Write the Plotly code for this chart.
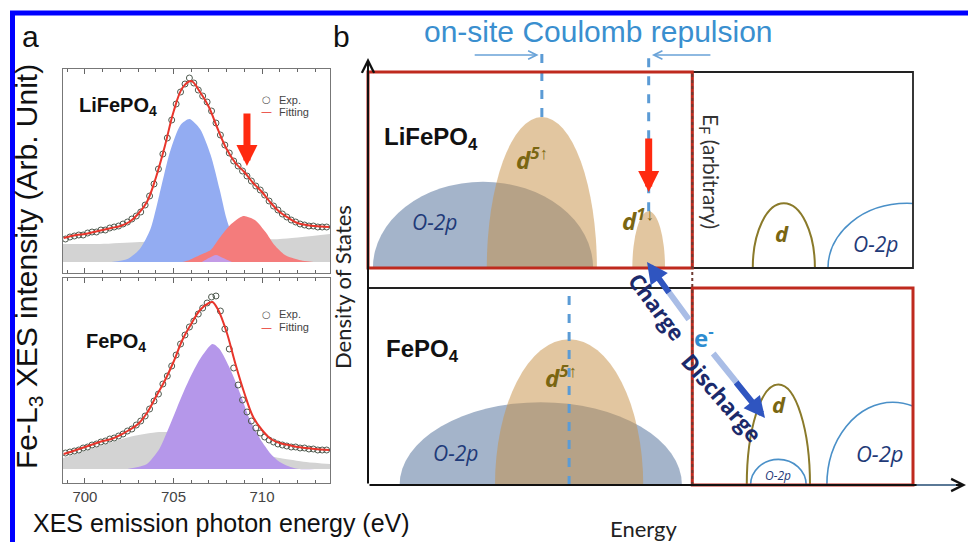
import plotly.graph_objects as go

FIG_W, FIG_H = 968, 542


def PX(x):
    """pixel column -> paper x"""
    return x / FIG_W


def PY(y):
    """pixel row -> paper y"""
    return 1 - y / FIG_H


# ------------------------------------------------------------------
# Panel a : Fe-L3 XES spectra (arbitrary intensity units)
# ------------------------------------------------------------------
energy_ticks = [700, 705, 710]

# LiFePO4 experimental points
lfp_exp_ev = [698.9, 699.15, 699.4, 699.65, 699.9, 700.15, 700.4, 700.65, 700.9, 701.15,
              701.4, 701.65, 701.9, 702.15, 702.4, 702.65, 702.9, 703.15, 703.4, 703.65,
              703.9, 704.15, 704.4, 704.65, 704.9, 705.15, 705.4, 705.65, 705.9, 706.15,
              706.4, 706.65, 706.9, 707.15, 707.4, 707.65, 707.9, 708.15, 708.4, 708.65,
              708.9, 709.15, 709.4, 709.65, 709.9, 710.15, 710.4, 710.65, 710.9, 711.15,
              711.4, 711.65, 711.9, 712.15, 712.4, 712.65, 712.9, 713.15, 713.4, 713.65]
lfp_exp_int = [0.23, 0.25, 0.26, 0.27, 0.27, 0.29, 0.30, 0.30, 0.32, 0.32,
               0.34, 0.35, 0.36, 0.38, 0.40, 0.43, 0.46, 0.50, 0.57, 0.66,
               0.78, 0.93, 1.08, 1.24, 1.42, 1.58, 1.70, 1.78, 1.84, 1.79,
               1.72, 1.66, 1.60, 1.51, 1.39, 1.27, 1.17, 1.09, 1.01, 0.96,
               0.91, 0.86, 0.81, 0.76, 0.72, 0.67, 0.61, 0.56, 0.52, 0.48,
               0.45, 0.42, 0.40, 0.38, 0.37, 0.36, 0.36, 0.35, 0.35, 0.35]

# LiFePO4 total fit
lfp_fit_ev = [698.8, 699.5, 700.0, 700.5, 701.0, 701.5, 702.0, 702.5, 703.0, 703.5,
              704.0, 704.5, 705.0, 705.5, 706.0, 706.5, 707.0, 707.5, 708.0, 708.5,
              709.0, 709.5, 710.0, 710.5, 711.0, 711.5, 712.0, 712.5, 713.0, 713.8]
lfp_fit_int = [0.24, 0.27, 0.28, 0.30, 0.32, 0.34, 0.36, 0.40, 0.48, 0.60,
               0.84, 1.15, 1.50, 1.74, 1.81, 1.70, 1.55, 1.33, 1.13, 0.99,
               0.90, 0.79, 0.70, 0.59, 0.50, 0.44, 0.39, 0.37, 0.36, 0.35]

# LiFePO4 fit components
lfp_bg_ev = [698.76, 700.85, 703.1, 705.9, 708.8, 711.0, 713.84]
lfp_bg_int = [0.18, 0.18, 0.20, 0.21, 0.22, 0.23, 0.28]

lfp_main_ev = [701.5, 702.4, 703.1, 703.7, 704.2, 704.8, 705.4, 705.9, 706.5, 707.1,
               707.6, 708.0, 708.4, 708.9, 709.4, 710.0]
lfp_main_int = [0.0, 0.03, 0.13, 0.33, 0.67, 1.10, 1.37, 1.43, 1.33, 1.07,
                0.73, 0.43, 0.23, 0.07, 0.01, 0.0]

lfp_shoulder_ev = [705.5, 705.9, 706.5, 707.1, 707.6, 708.2, 708.8, 709.0, 709.6, 710.2,
                   710.7, 711.3, 712.1, 713.0, 713.8]
lfp_shoulder_int = [0.0, 0.02, 0.07, 0.12, 0.24, 0.37, 0.45, 0.46, 0.42, 0.30,
                    0.17, 0.07, 0.02, 0.0, 0.0]

lfp_minor_ev = [706.6, 707.0, 707.4, 707.8, 708.3]
lfp_minor_int = [0.0, 0.04, 0.07, 0.04, 0.0]

# FePO4 experimental points
fp_exp_ev = lfp_exp_ev
fp_exp_int = [0.16, 0.17, 0.18, 0.19, 0.21, 0.22, 0.24, 0.25, 0.27, 0.28,
              0.30, 0.31, 0.33, 0.35, 0.38, 0.40, 0.44, 0.48, 0.53, 0.60,
              0.68, 0.75, 0.85, 0.93, 1.03, 1.14, 1.25, 1.34, 1.42, 1.48,
              1.55, 1.61, 1.66, 1.72, 1.73, 1.58, 1.40, 1.20, 1.01, 0.84,
              0.69, 0.57, 0.48, 0.41, 0.36, 0.32, 0.29, 0.27, 0.25, 0.24,
              0.23, 0.22, 0.22, 0.21, 0.21, 0.20, 0.20, 0.19, 0.19, 0.19]

# FePO4 total fit
fp_fit_ev = [698.8, 699.5, 700.0, 700.5, 701.0, 701.5, 702.0, 702.5, 703.0, 703.5,
             704.0, 704.5, 705.0, 705.5, 706.0, 706.5, 707.0, 707.2, 707.5, 708.0,
             708.5, 709.0, 709.5, 710.0, 710.5, 711.0, 711.5, 712.0, 712.5, 713.0, 713.8]
fp_fit_int = [0.15, 0.19, 0.22, 0.25, 0.28, 0.30, 0.34, 0.39, 0.45, 0.56,
              0.72, 0.88, 1.07, 1.29, 1.45, 1.59, 1.66, 1.67, 1.60, 1.37,
              1.05, 0.76, 0.52, 0.39, 0.30, 0.26, 0.24, 0.22, 0.21, 0.20, 0.19]

# FePO4 fit components
fp_bg_ev = [698.76, 700.0, 700.85, 702.5, 704.2, 705.5, 707.0, 708.5, 710.0, 711.0, 712.5, 713.84]
fp_bg_int = [0.11, 0.18, 0.23, 0.32, 0.37, 0.36, 0.31, 0.23, 0.15, 0.11, 0.07, 0.05]

fp_main_ev = [702.4, 703.0, 703.5, 704.2, 704.8, 705.4, 705.9, 706.5, 707.2, 707.6,
              708.2, 708.8, 709.3, 709.9, 710.5, 711.0, 711.6, 712.1, 713.0]
fp_main_int = [0.0, 0.02, 0.05, 0.20, 0.44, 0.70, 0.90, 1.10, 1.25, 1.20,
               1.00, 0.74, 0.50, 0.30, 0.15, 0.07, 0.02, 0.0, 0.0]

# ------------------------------------------------------------------
# Panel b : schematic density of states (energy in arbitrary units 0-10)
# ------------------------------------------------------------------
fermi_level = 5.95

lfp_band_kind = ["O-2p", "d", "d", "d", "O-2p"]
lfp_band_occ = ["filled", "filled", "filled", "empty", "empty"]
lfp_band_center = [2.11, 3.19, 5.15, 7.63, 9.89]
lfp_band_halfwidth = [2.02, 1.01, 0.30, 0.57, 1.45]
lfp_band_height = [0.44, 0.77, 0.29, 0.33, 0.33]

fp_band_kind = ["O-2p", "d", "d", "O-2p", "O-2p"]
fp_band_occ = ["filled", "filled", "empty", "empty", "empty"]
fp_band_center = [3.17, 3.69, 7.53, 7.53, 9.63]
fp_band_halfwidth = [2.59, 1.36, 0.58, 0.51, 1.21]
fp_band_height = [0.42, 0.74, 0.51, 0.13, 0.42]

# ------------------------------------------------------------------
# geometry of the panels (pixels)
A_LEFT, A_RIGHT = 63, 330
A_TOP1, A_BOT1 = 69, 273
A_TOP2, A_BOT2 = 278, 483
A_BASE1, A_BASE2 = 262, 469
A_SCALE = 100.0                    # pixels per intensity unit

B_LEFT, B_RIGHT = 368, 913
B_TOP1, B_BOT1 = 72, 268
B_TOP2, B_BOT2 = 288, 485
B_TOPAXIS = 40


def b_x(e):
    """schematic energy -> pixel column"""
    return B_LEFT + e * (B_RIGHT - B_LEFT) / 10.0


COL_FIT = "#e8352b"
COL_EXP = "#4f5a4f"
COL_O2P_FILL = "rgba(92,122,160,0.56)"
COL_D_FILL = "rgba(200,146,72,0.52)"
COL_O2P_LINE = "#4a90c8"
COL_D_LINE = "#8a7a2a"
COL_D_TEXT = "#7a6612"
COL_O2P_TEXT = "#1f3a78"
COL_BOX = "#bf2a1e"
COL_BLUE_TXT = "#3a8fcf"

fig = go.Figure()


def fill_trace(xv, yv, color, xa, ya):
    return go.Scatter(x=xv, y=yv, xaxis=xa, yaxis=ya, mode="lines", fill="tozeroy",
                      fillcolor=color, line=dict(width=0, shape="spline", smoothing=0.7),
                      showlegend=False, hoverinfo="skip")


def exp_trace(xv, yv, xa, ya):
    return go.Scatter(x=xv, y=yv, xaxis=xa, yaxis=ya, mode="markers", name="Exp.",
                      showlegend=False,
                      marker=dict(symbol="circle-open", size=6, color=COL_EXP,
                                  line=dict(width=1)))


def fit_trace(xv, yv, xa, ya):
    return go.Scatter(x=xv, y=yv, xaxis=xa, yaxis=ya, mode="lines", name="Fitting",
                      showlegend=False, line=dict(color=COL_FIT, width=2, shape="spline"))


# top spectrum (LiFePO4)
fig.add_trace(fill_trace(lfp_bg_ev, lfp_bg_int, "#d3d3d3", "x", "y"))
fig.add_trace(fill_trace(lfp_main_ev, lfp_main_int, "#93acf2", "x", "y"))
fig.add_trace(fill_trace(lfp_shoulder_ev, lfp_shoulder_int, "#f47c7c", "x", "y"))
fig.add_trace(fill_trace(lfp_minor_ev, lfp_minor_int, "#c39be6", "x", "y"))
fig.add_trace(exp_trace(lfp_exp_ev, lfp_exp_int, "x", "y"))
fig.add_trace(fit_trace(lfp_fit_ev, lfp_fit_int, "x", "y"))

# bottom spectrum (FePO4)
fig.add_trace(fill_trace(fp_bg_ev, fp_bg_int, "#d3d3d3", "x2", "y2"))
fig.add_trace(fill_trace(fp_main_ev, fp_main_int, "#b597ea", "x2", "y2"))
fig.add_trace(exp_trace(fp_exp_ev, fp_exp_int, "x2", "y2"))
fig.add_trace(fit_trace(fp_fit_ev, fp_fit_int, "x2", "y2"))

# empty traces register the schematic subplots
for ya in ("y3", "y4"):
    fig.add_trace(go.Scatter(x=[None], y=[None], xaxis="x3", yaxis=ya,
                             showlegend=False, hoverinfo="skip"))

shapes = []
annotations = []


def band_shapes(centers, halfw, heights, kinds, occs, yref):
    out = []
    for c, hw, h, k, o in zip(centers, halfw, heights, kinds, occs):
        if o == "filled":
            out.append(dict(type="circle", xref="x3", yref=yref,
                            x0=c - hw, x1=c + hw, y0=-h, y1=h,
                            fillcolor=COL_O2P_FILL if k == "O-2p" else COL_D_FILL,
                            line=dict(width=0)))
        else:
            out.append(dict(type="circle", xref="x3", yref=yref,
                            x0=c - hw, x1=c + hw, y0=-h, y1=h,
                            fillcolor="rgba(0,0,0,0)",
                            line=dict(color=COL_O2P_LINE if k == "O-2p" else COL_D_LINE,
                                      width=1.6 if k == "O-2p" else 2)))
    return out


shapes += band_shapes(lfp_band_center, lfp_band_halfwidth, lfp_band_height,
                      lfp_band_kind, lfp_band_occ, "y3")
shapes += band_shapes(fp_band_center, fp_band_halfwidth, fp_band_height,
                      fp_band_kind, fp_band_occ, "y4")

# dashed markers of the occupied d-band centres
arrow_level = (B_BOT1 - 55) / (B_BOT1 - B_TOP1)
for i in (1, 2):
    shapes.append(dict(type="line", xref="x3", yref="y3",
                       x0=lfp_band_center[i], x1=lfp_band_center[i],
                       y0=lfp_band_height[i], y1=arrow_level + 0.02,
                       line=dict(color="#5b9bd5", width=3, dash="dash")))
shapes.append(dict(type="line", xref="x3", yref="y4",
                   x0=fp_band_center[1], x1=fp_band_center[1], y0=0, y1=1,
                   line=dict(color="#5b9bd5", width=3, dash="dash")))

ef_px = b_x(fermi_level)
# frames of the schematic
shapes += [
    dict(type="rect", xref="paper", yref="paper", x0=PX(ef_px), x1=PX(B_RIGHT),
         y0=PY(B_BOT1), y1=PY(B_TOP1), line=dict(color="#222", width=1.8)),
    dict(type="line", xref="paper", yref="paper", x0=PX(B_LEFT), x1=PX(ef_px),
         y0=PY(B_TOP2), y1=PY(B_TOP2), line=dict(color="#222", width=1.8)),
    dict(type="rect", xref="paper", yref="paper", x0=PX(B_LEFT), x1=PX(ef_px),
         y0=PY(B_BOT1), y1=PY(B_TOP1), line=dict(color=COL_BOX, width=3)),
    dict(type="rect", xref="paper", yref="paper", x0=PX(ef_px), x1=PX(B_RIGHT),
         y0=PY(B_BOT2), y1=PY(B_TOP2), line=dict(color=COL_BOX, width=3)),
    dict(type="line", xref="paper", yref="paper", x0=PX(ef_px), x1=PX(ef_px),
         y0=PY(B_BOT2), y1=PY(B_TOP1), line=dict(color="#6e3a32", width=2, dash="dot")),
    # outer frame
    dict(type="rect", xref="paper", yref="paper", x0=PX(12.5), x1=PX(985),
         y0=PY(570), y1=PY(13), line=dict(color="#0000ff", width=5)),
]


def paper_arrow(head, tail, color, width, head_style, size=1.0):
    """arrow drawn in figure pixels, head and tail given as (col, row)"""
    return dict(xref="paper", yref="paper", x=PX(head[0]), y=PY(head[1]),
                axref="pixel", ayref="pixel",
                ax=tail[0] - head[0], ay=tail[1] - head[1], text="",
                showarrow=True, arrowhead=head_style, arrowsize=size,
                arrowwidth=width, arrowcolor=color)


def paper_text(x, y, text, size, color, family="Liberation Sans, Arial", angle=0, **kw):
    return dict(xref="paper", yref="paper", x=PX(x), y=PY(y), text=text,
                showarrow=False, textangle=angle,
                font=dict(family=family, size=size, color=color, **kw))


# axes arrows of the schematic
annotations += [
    paper_arrow((966, B_BOT2), (B_LEFT, B_BOT2), "#111", 2, 5, 1.2),
    paper_arrow((B_LEFT, 58), (B_LEFT, B_BOT2), "#111", 2, 5, 1.2),
    paper_arrow((956, B_BOT2), (B_RIGHT + 2, B_BOT2), "#5a7896", 2.2, 0),
]

# Coulomb repulsion arrows
annotations += [
    dict(xref="x3", yref="y3", axref="x3", ayref="y3",
         x=lfp_band_center[1] - 0.06, y=arrow_level, ax=1.93, ay=arrow_level, text="",
         showarrow=True, arrowhead=5, arrowsize=1.3, arrowwidth=1.3, arrowcolor="#6aa3d8"),
    dict(xref="x3", yref="y3", axref="x3", ayref="y3",
         x=lfp_band_center[2] + 0.06, y=arrow_level, ax=6.31, ay=arrow_level, text="",
         showarrow=True, arrowhead=5, arrowsize=1.3, arrowwidth=1.3, arrowcolor="#6aa3d8"),
    paper_text(598, 31, "on-site Coulomb repulsion", 30, COL_BLUE_TXT),
]

# red arrows pointing at the d1 (minority spin) feature
annotations += [
    dict(xref="x3", yref="y3", axref="x3", ayref="y3",
         x=lfp_band_center[2], y=(B_BOT1 - 192) / (B_BOT1 - B_TOP1),
         ax=lfp_band_center[2], ay=(B_BOT1 - 137) / (B_BOT1 - B_TOP1), text="",
         showarrow=True, arrowhead=2, arrowsize=0.6, arrowwidth=7, arrowcolor="#ff2a10"),
    dict(xref="x", yref="y", axref="x", ayref="y",
         x=709.15, y=(A_BASE1 - 166) / A_SCALE, ax=709.15, ay=(A_BASE1 - 112) / A_SCALE,
         text="", showarrow=True, arrowhead=2, arrowsize=0.6, arrowwidth=7,
         arrowcolor="#ff2a10"),
]

# charge / discharge electron transfer
annotations += [
    paper_arrow((668, 291), (690, 321), "#a9bde6", 6, 0),
    paper_arrow((647, 262), (670, 294), "#2f55c0", 6, 2, 0.7),
    paper_arrow((737, 383), (712, 352), "#a9bde6", 6, 0),
    paper_arrow((765, 418), (735, 381), "#2f55c0", 6, 2, 0.7),
    paper_text(657, 306, "<b>Charge</b>", 22, "#1b2a6b", "Open Sans", 53),
    paper_text(722, 397, "<b>Discharge</b>", 22, "#1b2a6b", "Open Sans", 49),
    paper_text(704, 336, "<b>e<sup>-</sup></b>", 24, "#2d8cd0", "Open Sans"),
]


def band_label(x, y, text, yref, size, color, bold=True):
    return dict(xref="x3", yref=yref, x=x, y=y, text=text, showarrow=False,
                font=dict(family="Open Sans", size=size, color=color,
                          style="italic", weight="bold" if bold else "normal"))


annotations += [
    band_label(1.22, 0.235, "O-2p", "y3", 21, COL_O2P_TEXT, bold=False),
    band_label(3.0, 0.56, "d<sup>5↑</sup>", "y3", 24, COL_D_TEXT),
    band_label(4.95, 0.25, "d<sup>1↓</sup>", "y3", 24, COL_D_TEXT),
    band_label(7.6, 0.18, "d", "y3", 22, COL_D_TEXT),
    band_label(9.32, 0.12, "O-2p", "y3", 21, COL_O2P_TEXT, bold=False),
    band_label(1.6, 0.16, "O-2p", "y4", 21, COL_O2P_TEXT, bold=False),
    band_label(3.55, 0.55, "d<sup>5↑</sup>", "y4", 24, COL_D_TEXT),
    band_label(7.55, 0.41, "d", "y4", 22, COL_D_TEXT),
    band_label(7.53, 0.05, "O-2p", "y4", 12, COL_O2P_TEXT, bold=False),
    band_label(9.4, 0.16, "O-2p", "y4", 22, COL_O2P_TEXT, bold=False),
    paper_text(431, 138, "<b>LiFePO<sub>4</sub></b>", 24, "#111"),
    paper_text(422, 350, "<b>FePO<sub>4</sub></b>", 24, "#111"),
    paper_text(710, 171, "E<sub>F</sub> (arbitrary)", 21, "#333", "Lato", 90),
    paper_text(342, 287, "Density of States", 22, "#222", "Lato", -90),
    paper_text(643, 528, "Energy", 22, "#222", "Lato"),
]

# panel a texts
annotations += [
    paper_text(118, 106, "<b>LiFePO<sub>4</sub></b>", 20, "#111"),
    paper_text(116, 342, "<b>FePO<sub>4</sub></b>", 20, "#111"),
    paper_text(28, 267, "Fe-L<sub>3</sub> XES intensity (Arb. Unit)", 30, "#111", angle=-90),
    paper_text(221, 523, "XES emission photon energy (eV)", 25, "#111"),
    paper_text(30, 37, "a", 30, "#111"),
    paper_text(341, 37, "b", 30, "#111"),
]

# legends of the two spectra
for row_exp, row_fit in ((100, 112), (314, 327)):
    annotations += [
        paper_text(266, row_exp, "○", 10, "#555", "DejaVu Sans"),
        paper_text(266, row_fit, "—", 11, COL_FIT, "DejaVu Sans"),
        dict(paper_text(277, row_exp, "Exp.", 11, "#444"), xanchor="left"),
        dict(paper_text(277, row_fit, "Fitting", 11, "#444"), xanchor="left"),
    ]

# every annotation is placed by its centre
for a in annotations:
    a.setdefault("xanchor", "center")
    a.setdefault("yanchor", "middle")

spec_x = dict(range=[698.76, 713.84], tick0=700, dtick=5, ticks="inside", ticklen=5,
              tickcolor="#666", showline=True, linecolor="#777", linewidth=1.3,
              mirror="ticks", showgrid=False, zeroline=False,
              minor=dict(ticks="inside", dtick=1, ticklen=3, tickcolor="#666"),
              domain=[PX(A_LEFT), PX(A_RIGHT)])
spec_y = dict(showline=True, linecolor="#777", linewidth=1.3, mirror=True, ticks="",
              showticklabels=False, showgrid=False, zeroline=False)

fig.update_layout(
    width=FIG_W, height=FIG_H, margin=dict(l=0, r=0, t=0, b=0),
    paper_bgcolor="white", plot_bgcolor="rgba(0,0,0,0)",
    xaxis=dict(**spec_x, anchor="y", showticklabels=False),
    yaxis=dict(**spec_y, anchor="x", domain=[PY(A_BOT1), PY(A_TOP1)],
               range=[(A_BASE1 - A_BOT1) / A_SCALE, (A_BASE1 - A_TOP1) / A_SCALE]),
    xaxis2=dict(**spec_x, anchor="y2", showticklabels=True, tickvals=energy_ticks,
                tickfont=dict(family="Liberation Sans, Arial", size=15, color="#444")),
    yaxis2=dict(**spec_y, anchor="x2", domain=[PY(A_BOT2), PY(A_TOP2)],
                range=[(A_BASE2 - A_BOT2) / A_SCALE, (A_BASE2 - A_TOP2) / A_SCALE]),
    xaxis3=dict(domain=[PX(B_LEFT), PX(B_RIGHT)], range=[0, 10], visible=False, anchor="y4"),
    yaxis3=dict(domain=[PY(B_BOT1), PY(B_TOPAXIS)],
                range=[0, (B_BOT1 - B_TOPAXIS) / (B_BOT1 - B_TOP1)], visible=False, anchor="x3"),
    yaxis4=dict(domain=[PY(B_BOT2), PY(B_TOP2)], range=[0, 1], visible=False, anchor="x3"),
    showlegend=False,
    shapes=shapes,
    annotations=annotations,
)

fig.write_html("out.html")
